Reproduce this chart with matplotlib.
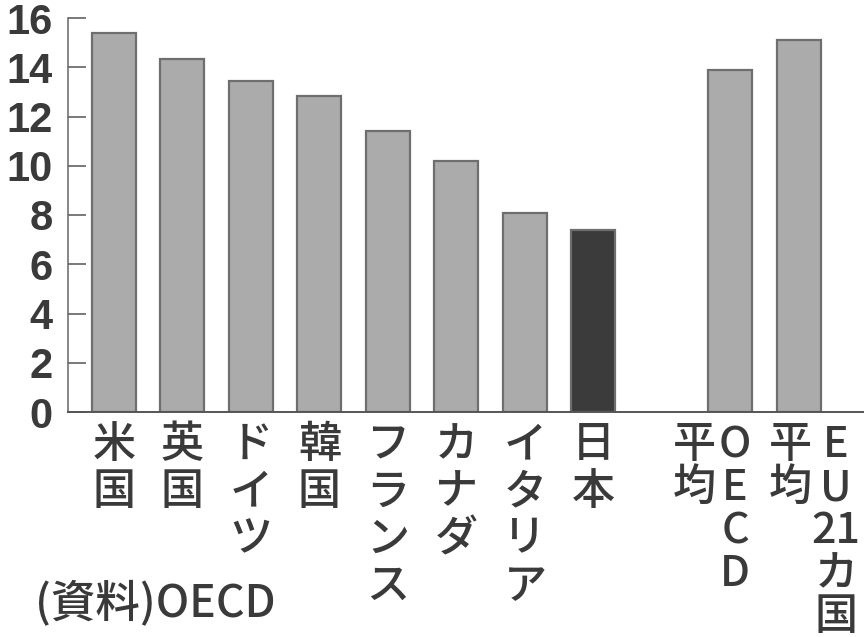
import matplotlib
matplotlib.use("Agg")
import matplotlib.pyplot as plt
from matplotlib import font_manager

# ---- data ----
countries = ["米国", "英国", "ドイツ", "韓国", "フランス", "カナダ", "イタリア", "日本"]
country_values = [15.4, 14.35, 13.45, 12.85, 11.4, 10.2, 8.1, 7.4]
avg_labels_right = ["OECD", "EU21カ国"]   # right column of each two-column label
avg_labels_left = ["平均", "平均"]         # left column
avg_values = [13.9, 15.1]
yticks = [0, 2, 4, 6, 8, 10, 12, 14, 16]
source_text = "(資料)OECD"
highlight = "日本"

# ---- layout / style ----
W, H, DPI = 864, 637, 100
fig = plt.figure(figsize=(W / DPI, H / DPI), dpi=DPI)
ax = fig.add_axes([68 / W, 1 - 412 / H, 1 - 68 / W, (412 - 18) / H])

gray = "#ababab"
edge = "#6e6e6e"
dark = "#3b3b3b"
txt = "#3a3a3a"
jp = ["Noto Sans CJK JP", "DejaVu Sans"]

names = {f.name for f in font_manager.fontManager.ttflist}
num_font = "Liberation Sans Narrow" if "Liberation Sans Narrow" in names else "Liberation Sans"

country_pos = list(range(len(countries)))
avg_pos = [len(countries) + 1 + i for i in range(len(avg_values))]

colors = [dark if c == highlight else gray for c in countries]
ax.bar(country_pos, country_values, width=0.64, color=colors,
       edgecolor=edge, linewidth=1.6, zorder=2)
ax.bar(avg_pos, avg_values, width=0.64, color=gray,
       edgecolor=edge, linewidth=1.6, zorder=2)

ax.set_xlim(-0.67, 10.95)
ax.set_ylim(0, 16)
ax.set_yticks(yticks)
ax.set_yticklabels([str(t) for t in yticks], fontfamily=num_font,
                   fontweight="bold", fontsize=30, color="#3a3a3a")
ax.tick_params(axis="y", direction="in", length=13, width=1.1, color="#555555", pad=11)
ax.tick_params(axis="x", bottom=False, labelbottom=False)
for s in ["top", "right"]:
    ax.spines[s].set_visible(False)
ax.spines["left"].set_color("#666666")
ax.spines["bottom"].set_color("#555555")
ax.spines["left"].set_linewidth(1.1)
ax.spines["bottom"].set_linewidth(1.4)

FS = 31
TOP = 8.0    # points below axis


def vcol(x, chars, step, fontsize=FS):
    for i, ch in enumerate(chars):
        ax.annotate(ch, xy=(x, 0), xycoords=("data", "axes fraction"),
                    xytext=(0, -TOP - i * step), textcoords="offset points",
                    ha="center", va="top", fontsize=fontsize, family=jp,
                    fontweight="medium", color=txt, annotation_clip=False)


def split_vertical(s):
    out = []
    i = 0
    while i < len(s):
        if s[i].isdigit():
            j = i
            while j < len(s) and s[j].isdigit():
                j += 1
            out.append(s[i:j])
            i = j
        else:
            out.append(s[i])
            i += 1
    return out


for x, c in zip(country_pos, countries):
    vcol(x, split_vertical(c), 34.0)

col_offsets = [(-0.53, 0.07), (-0.12, 0.54)]
for x, l, r, (ol, orr) in zip(avg_pos, avg_labels_left, avg_labels_right, col_offsets):
    vcol(x + ol, split_vertical(l), 31.0)
    vcol(x + orr, split_vertical(r), 31.0)

fig.text(35 / W, 1 - 604 / H, source_text, fontsize=32, family=jp, color=txt,
         fontweight="medium", ha="left", va="center")

fig.savefig("out.png", dpi=DPI)
